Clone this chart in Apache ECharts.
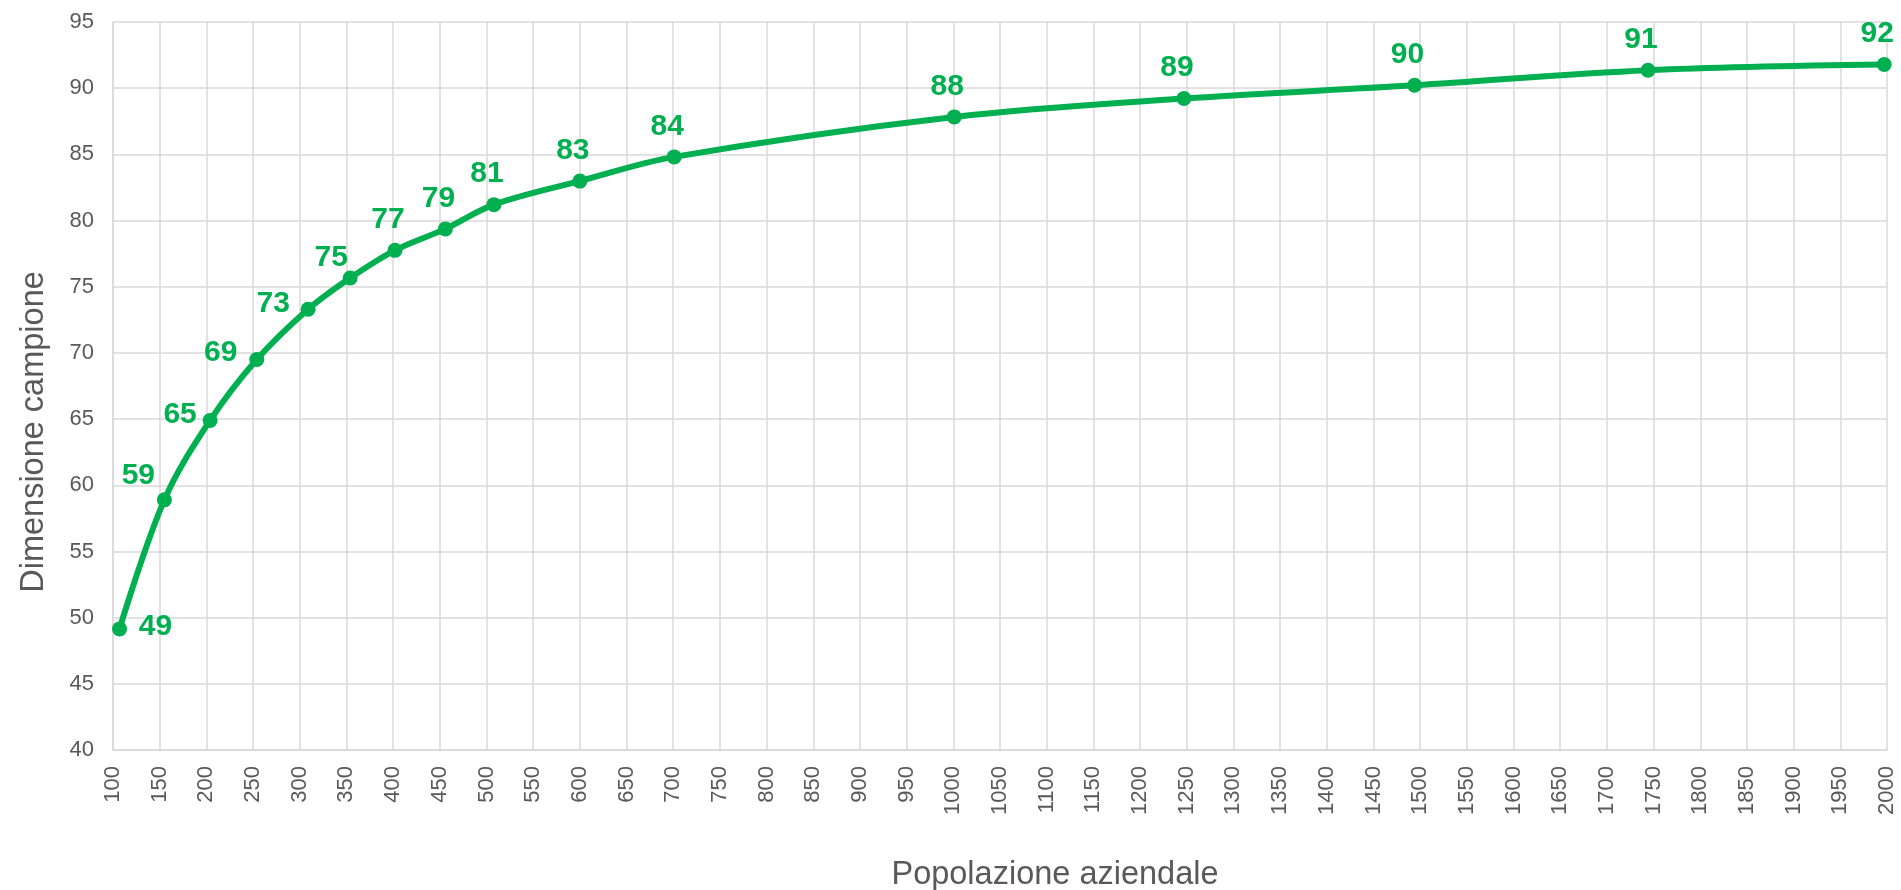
<!DOCTYPE html>
<html>
<head>
<meta charset="utf-8">
<script src="https://cdn.jsdelivr.net/npm/echarts@6/dist/echarts.min.js"></script>
<style>
  html, body { margin: 0; padding: 0; background: #fff; }
  #chart { width: 1901px; height: 890px; }
</style>
</head>
<body>
<div id="chart"></div>
<script>
// dati
const popolazione = [107, 155, 204, 254, 309, 354, 402, 456, 508, 600, 701, 1001, 1247, 1494, 1744, 1997];
const campione = [49.15, 58.9, 64.9, 69.5, 73.3, 75.66, 77.75, 79.37, 81.2, 82.98, 84.81, 87.83, 89.22, 90.22, 91.36, 91.79];
const etichette = ['49', '59', '65', '69', '73', '75', '77', '79', '81', '83', '84', '88', '89', '90', '91', '92'];

const verde = '#00B050';
const grigio = '#595959';
const font = '"Liberation Sans", Arial, sans-serif';

// etichette spostate a mano (come nel foglio originale)
const spostamenti = {
  0: [36, 28],
  1: [-26, 6],
  2: [-30, 25],
  3: [-36, 24],
  4: [-35, 25],
  5: [-19, 10]
};

const punti = popolazione.map((x, i) => {
  let p = { value: [x, campione[i]], name: etichette[i] };
  if (spostamenti[i]) {
    p.label = { offset: spostamenti[i] };
  }
  return p;
});

const chart = echarts.init(document.getElementById('chart'));
chart.setOption({
  animation: false,
  grid: { left: 113, right: 14, top: 22, bottom: 140, containLabel: false, outerBoundsMode: 'none' },
  xAxis: {
    type: 'value',
    min: 100,
    max: 2000,
    interval: 50,
    name: 'Popolazione aziendale',
    nameLocation: 'middle',
    nameGap: 109,
    nameMoveOverlap: false,
    nameTextStyle: { fontFamily: font, fontSize: 32.5, color: grigio, padding: [0, 0, 0, 110] },
    axisLine: { lineStyle: { color: '#d9d9d9', width: 1.5 } },
    axisTick: { show: false },
    axisLabel: {
      rotate: 90, margin: 16, fontFamily: font, fontSize: 22, color: grigio,
      hideOverlap: false,
      formatter: v => String(v)
    },
    splitLine: { show: true, lineStyle: { color: '#d9d9d9', width: 1.5 } }
  },
  yAxis: {
    type: 'value',
    min: 40,
    max: 95,
    interval: 5,
    name: 'Dimensione campione',
    nameLocation: 'middle',
    nameRotate: 90,
    nameGap: 62,
    nameMoveOverlap: false,
    nameTextStyle: { fontFamily: font, fontSize: 32.5, color: grigio, padding: [0, 92, 0, 0] },
    axisLine: { show: true, lineStyle: { color: '#d9d9d9', width: 1.5 } },
    axisTick: { show: false },
    axisLabel: {
      margin: 19, align: 'right', fontFamily: font, fontSize: 22, color: grigio,
      hideOverlap: false,
      formatter: v => String(v)
    },
    splitLine: { lineStyle: { color: '#d9d9d9', width: 1.5 } }
  },
  series: [
    {
      type: 'line',
      data: punti,
      smooth: 0.35,
      symbol: 'circle',
      symbolSize: 15,
      lineStyle: { color: verde, width: 6 },
      itemStyle: { color: verde },
      label: {
        show: true,
        position: 'top',
        distance: 8,
        offset: [-7, 0],
        formatter: p => p.name,
        fontFamily: font,
        fontSize: 30,
        fontWeight: 'bold',
        color: verde
      }
    }
  ]
});
</script>
</body>
</html>
